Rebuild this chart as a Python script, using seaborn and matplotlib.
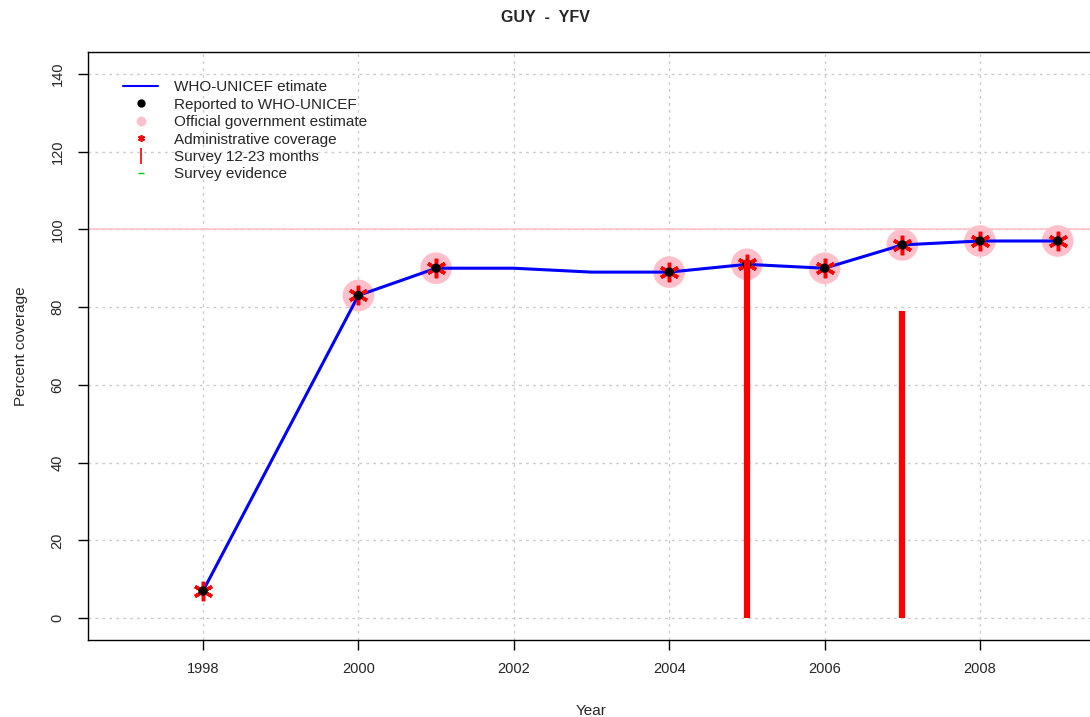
import matplotlib
matplotlib.use("Agg")
import matplotlib.pyplot as plt
from matplotlib.lines import Line2D
import seaborn as sns
import pandas as pd

# Data
est_years = [1998, 2000, 2001, 2002, 2003, 2004, 2005, 2006, 2007, 2008, 2009]
est_values = [7, 83, 90, 90, 89, 89, 91, 90, 96, 97, 97]

rep_years = [1998, 2000, 2001, 2004, 2005, 2006, 2007, 2008, 2009]
rep_values = [7, 83, 90, 89, 91, 90, 96, 97, 97]

gov_years = [2000, 2001, 2004, 2005, 2006, 2007, 2008, 2009]
gov_values = [83, 90, 89, 91, 90, 96, 97, 97]

adm_years = [1998, 2000, 2001, 2004, 2005, 2006, 2007, 2008, 2009]
adm_values = [7, 83, 90, 89, 91, 90, 96, 97, 97]

survey_years = [2005, 2007]
survey_values = [92, 79]

x_ticks = [1998, 2000, 2002, 2004, 2006, 2008]
y_ticks = [0, 20, 40, 60, 80, 100, 120, 140]

sns.set_style("white")
plt.rcParams['font.family'] = ['Liberation Sans', 'DejaVu Sans']

fig = plt.figure(figsize=(10.9, 7.17), dpi=100)
ax = fig.add_axes([88/1090, 1-640/717, (1095-88)/1090, (640-52)/717])

ax.set_xlim(1996.52, 2009.48)
ax.set_ylim(-5.6, 145.6)

# grid
for xt in x_ticks:
    ax.axvline(xt, color='#cccccc', lw=1, ls=(0, (2, 3)), zorder=0)
for yt in y_ticks:
    ax.axhline(yt, color='#cccccc', lw=1, ls=(0, (2, 3)), zorder=0)
ax.axhline(100, color='#ffc0cb', lw=1.2, zorder=1)

df_gov = pd.DataFrame({'year': gov_years, 'v': gov_values})
sns.scatterplot(data=df_gov, x='year', y='v', ax=ax, s=520, color='#ffc0cb',
                edgecolor='none', zorder=2, legend=False)

df_est = pd.DataFrame({'year': est_years, 'v': est_values})
sns.lineplot(data=df_est, x='year', y='v', ax=ax, color='blue', lw=2.2, zorder=3, legend=False)

df_adm = pd.DataFrame({'year': adm_years, 'v': adm_values})
ax.plot(df_adm['year'], df_adm['v'], ls='none', marker=(6, 2, 0), ms=14,
        mew=2.5, color='red', zorder=4)

df_rep = pd.DataFrame({'year': rep_years, 'v': rep_values})
sns.scatterplot(data=df_rep, x='year', y='v', ax=ax, s=45, color='black',
                edgecolor='none', zorder=5, legend=False)

ax.vlines(survey_years, 0, survey_values, color='red', lw=4.5, zorder=6)

ax.set_xticks(x_ticks)
ax.set_yticks(y_ticks)
ax.set_xticklabels([str(v) for v in x_ticks], fontsize=10.5)
ax.set_yticklabels([str(v) for v in y_ticks], fontsize=10.5, rotation=90, va='center')
ax.tick_params(axis='both', direction='out', length=7, width=1, color='black',
               bottom=True, left=True, pad=10)
ax.tick_params(axis='x', pad=9)
for s in ax.spines.values():
    s.set_color('black')
    s.set_linewidth(1)

ax.set_xlabel('Year', fontsize=11, labelpad=20)
ax.set_ylabel('Percent coverage', fontsize=11, labelpad=16)
fig.text(0.5, 1-17/717, 'GUY  -  YFV', ha='center', va='center', fontsize=11.5, fontweight='bold')

handles = [
    Line2D([], [], color='blue', lw=1.5),
    Line2D([], [], color='black', marker='o', ls='none', ms=5),
    Line2D([], [], color='#ffc0cb', marker='o', ls='none', ms=6),
    Line2D([], [], color='red', marker=(6, 2, 0), ls='none', ms=5, mew=1.2),
    Line2D([], [], color='red', marker='|', ls='none', ms=11, mew=1.2),
    Line2D([], [], color='#00cc00', marker='_', ls='none', ms=4, mew=1),
]
labels = ['WHO-UNICEF etimate', 'Reported to WHO-UNICEF', 'Official government estimate',
          'Administrative coverage', 'Survey 12-23 months', 'Survey evidence']
leg = ax.legend(handles, labels, loc='upper left', bbox_to_anchor=(0.029, 0.962),
                frameon=False, fontsize=11, handlelength=2.3, handletextpad=1.0,
                labelspacing=0.22, borderaxespad=0)

fig.savefig('out.png', dpi=100)
